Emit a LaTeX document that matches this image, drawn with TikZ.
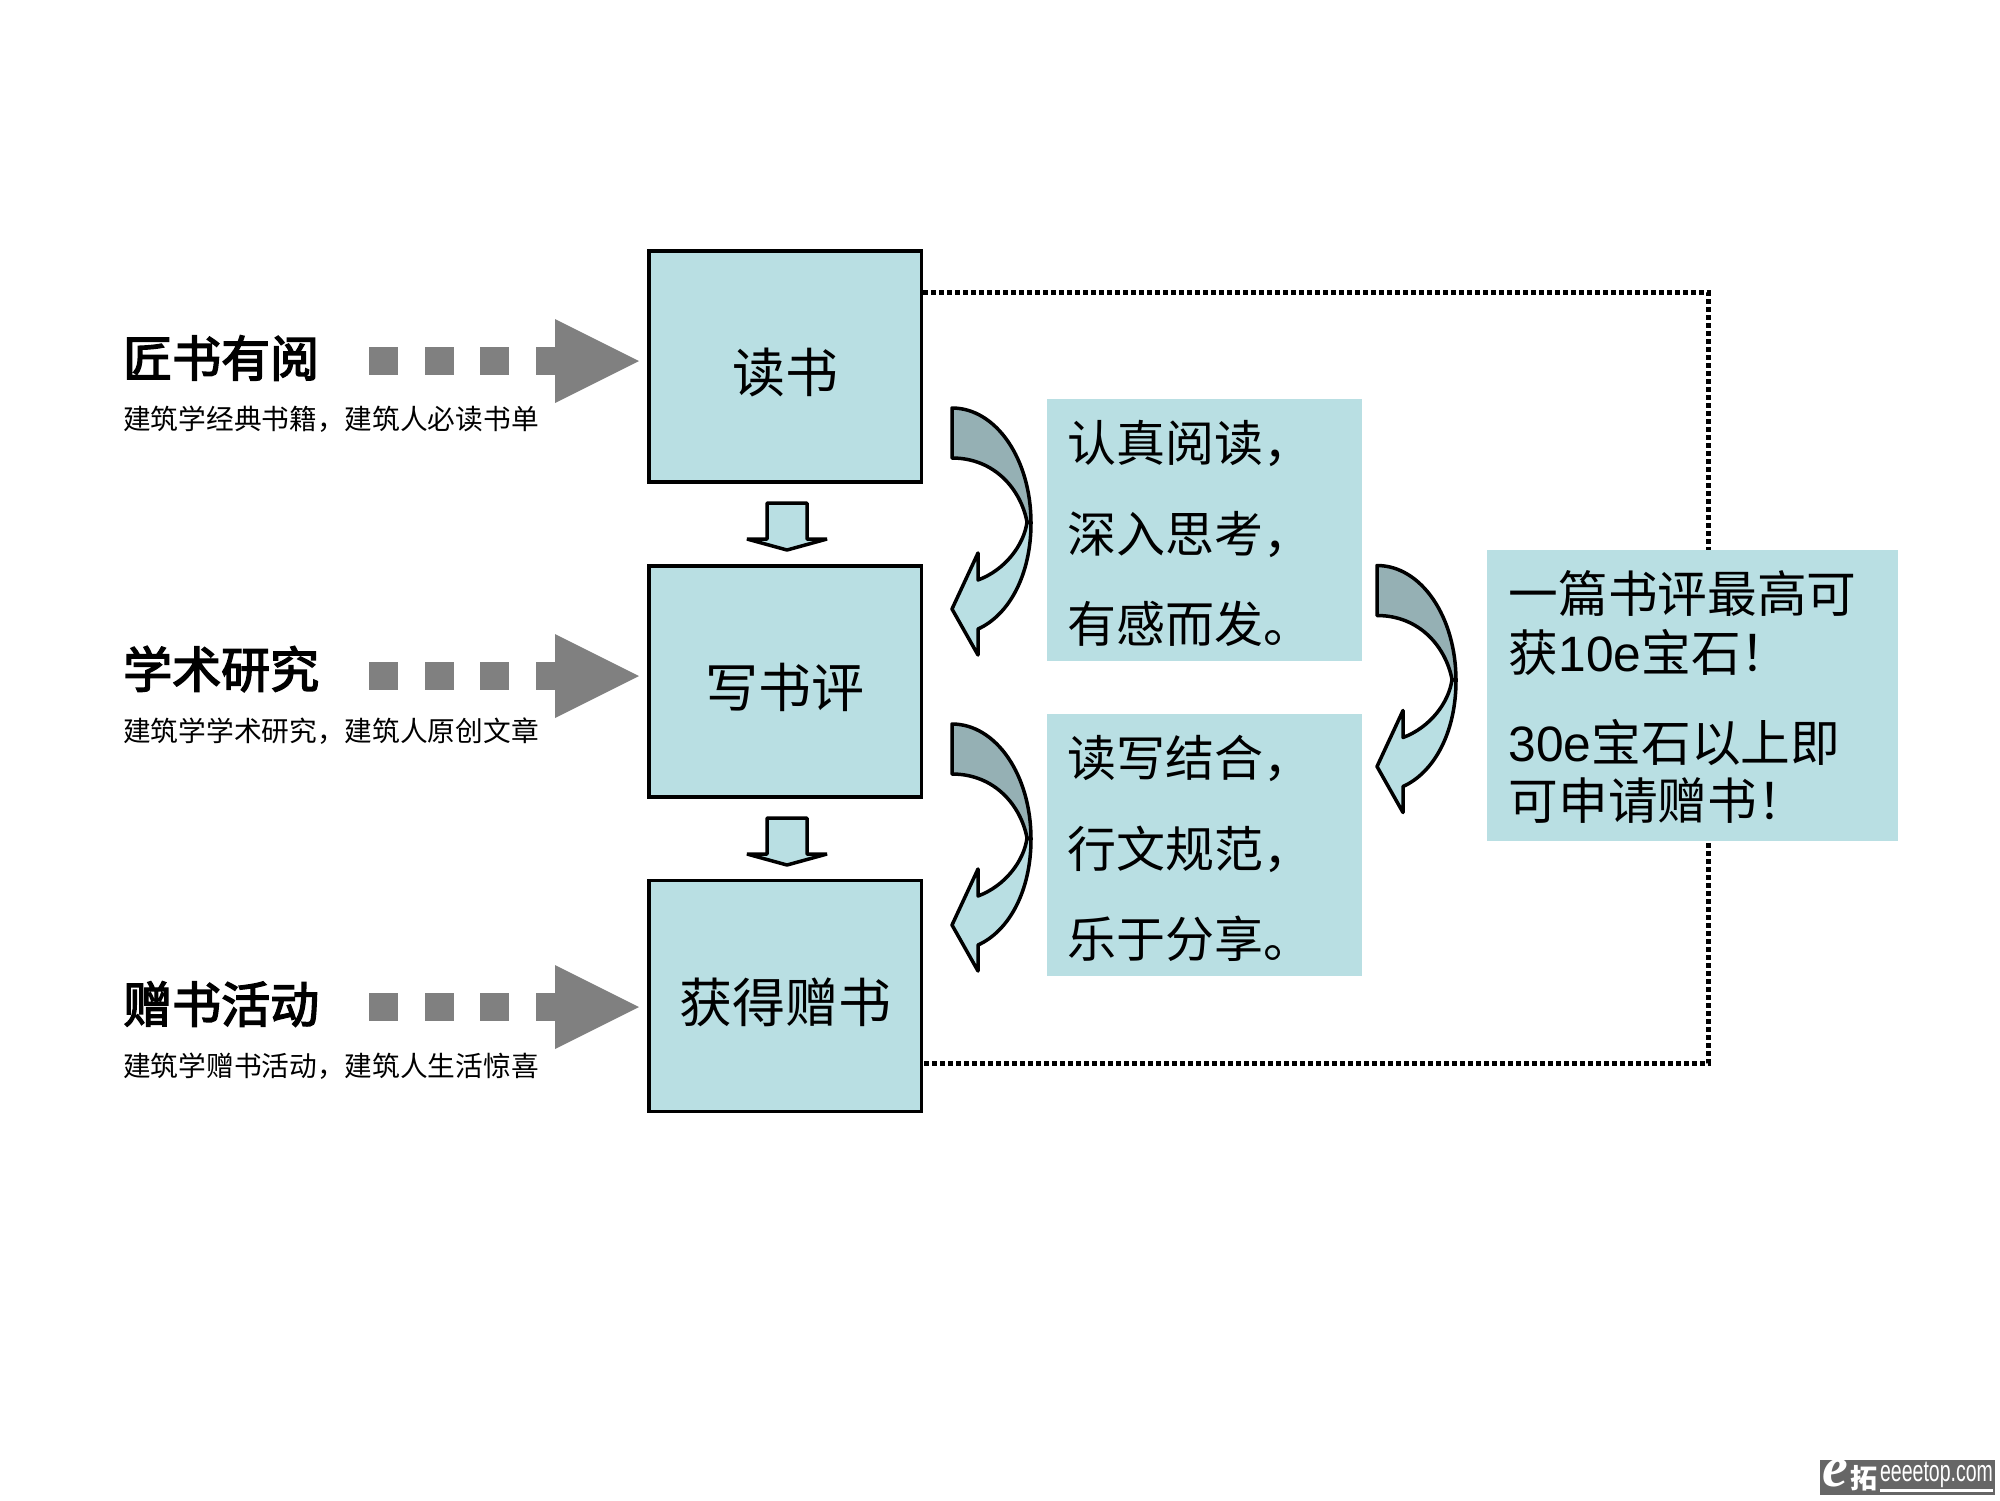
\documentclass[tikz,border=0pt]{standalone}
\usepackage{fontspec}
\setmainfont{Noto Sans CJK SC}
\newfontfamily\latinf{Liberation Sans}
\newfontfamily\logof{Liberation Serif}
\newfontfamily\headf[FakeBold=3]{Noto Sans CJK SC}
\definecolor{teal1}{HTML}{B9DFE3}
\definecolor{teal2}{HTML}{95B0B4}
\definecolor{arrowgrey}{HTML}{808080}
\definecolor{logogrey}{HTML}{666666}
\newcommand{\fsz}[1]{\fontsize{#1}{#1}\selectfont}
\newcommand{\toppad}[1]{\rule{0pt}{#1pt}}
\tikzset{
  mainbox/.style={draw=black,line width=3.5pt,fill=teal1,minimum width=272.5pt,minimum height=231pt,inner sep=0pt,anchor=north west,font=\fsz{53}},
  infobox/.style={fill=teal1,anchor=north west,inner sep=0pt,align=left},
  headtext/.style={anchor=west,inner sep=0pt,font=\fsz{49}\headf},
  subtext/.style={anchor=west,inner sep=0pt,font=\fsz{27.7}},
  curl/.pic={
    \draw[line width=3.5pt,fill=teal2,line join=round] (0,0) .. controls (44,0) and (79,51) .. (79,115) -- (75,114) .. controls (69,82) and (43,50) .. (0,50) -- cycle;
    \draw[line width=3.5pt,fill=teal1,line join=round] (75,114) .. controls (72,137) and (53,162) .. (26,172) -- (26,145) -- (0,201) -- (26,247) -- (26,221) .. controls (57,207) and (79,167) .. (79,115) -- cycle;
  },
  downarrow/.pic={
    \draw[line width=3.5pt,fill=teal1,line join=bevel] (-20,0) -- (20,0) -- (20,36) -- (40,36) -- (0,47) -- (-40,36) -- (-20,36) -- cycle;
  },
  dasharrow/.pic={
    \fill[arrowgrey] (369,-14) rectangle (398,14);
    \fill[arrowgrey] (425,-14) rectangle (454,14);
    \fill[arrowgrey] (480,-14) rectangle (509,14);
    \fill[arrowgrey] (536,-14) rectangle (560,14);
    \fill[arrowgrey] (555,-42) -- (639,0) -- (555,42) -- cycle;
  },
}
\begin{document}
\begin{tikzpicture}[x=1pt,y=-1pt]
\useasboundingbox (0,0) rectangle (2000,1500);
% main boxes
\node[mainbox] (box1) at (647,249.2) {\toppad{56}读书};
\node[mainbox] (box2) at (647,564.2) {\toppad{56}写书评};
\node[mainbox] (box3) at (647,878.5) {\toppad{57}获得赠书};
% dotted connector
\coordinate (c1) at (1708,292);
\coordinate (c2) at (1708,1063.5);
\draw[line width=5pt,dash pattern=on 5pt off 3pt] (box1.north east |- c1) -- (c1) -- (c2) -- (box3.south east |- c2);
% info boxes
\node[infobox,minimum width=315pt,minimum height=262pt,text width=274pt,font=\fontsize{49}{90.5}\selectfont] (info1) at (1046.5,398.7) {\toppad{49}认真阅读，\\深入思考，\\有感而发。};
\node[infobox,minimum width=315pt,minimum height=262pt,text width=274pt,font=\fontsize{49}{90.5}\selectfont] (info2) at (1046.5,713.5) {\toppad{49}读写结合，\\行文规范，\\乐于分享。};
\node[infobox,minimum width=411pt,minimum height=291pt,text width=368pt,font=\fontsize{49.7}{58.7}\selectfont] (info3) at (1487,549.5) {\toppad{46}一篇书评最高可\\获{\latinf 10e}宝石！\\[31pt]{\latinf 30e}宝石以上即\\可申请赠书！};
% curved arrows
\pic at (952,408) {curl};
\pic at (952,724) {curl};
\pic at (1377,565.5) {curl};
% block arrows
\pic at (787,503) {downarrow};
\pic at (787,818) {downarrow};
% dashed arrows
\pic at (0,361) {dasharrow};
\pic at (0,676) {dasharrow};
\pic at (0,1007) {dasharrow};
% left labels
\node[headtext] (h1) at (123,358) {匠书有阅};
\node[subtext] (s1) at (123,419) {建筑学经典书籍，建筑人必读书单};
\node[headtext] (h2) at (123,669) {学术研究};
\node[subtext] (s2) at (123,731) {建筑学学术研究，建筑人原创文章};
\node[headtext] (h3) at (123,1004) {赠书活动};
\node[subtext] (s3) at (123,1066) {建筑学赠书活动，建筑人生活惊喜};
% logo
\fill[logogrey] (1820,1460) rectangle (1995,1495);
\node[anchor=west,inner sep=0pt,text=white,font=\fsz{58}\logof\bfseries\itshape] (logoe) at (1822,1473) {e};
\node[anchor=west,inner sep=0pt,text=white,font=\fsz{27}\bfseries] (logot) at (1850,1478) {拓};
\node[anchor=west,inner sep=0pt,text=white,font=\fsz{30}\latinf,xscale=0.65] (logou) at (1880,1475) {eeeetop.com};
\fill[white] (1880,1489) rectangle (1993,1491.5);
\end{tikzpicture}
\end{document}
